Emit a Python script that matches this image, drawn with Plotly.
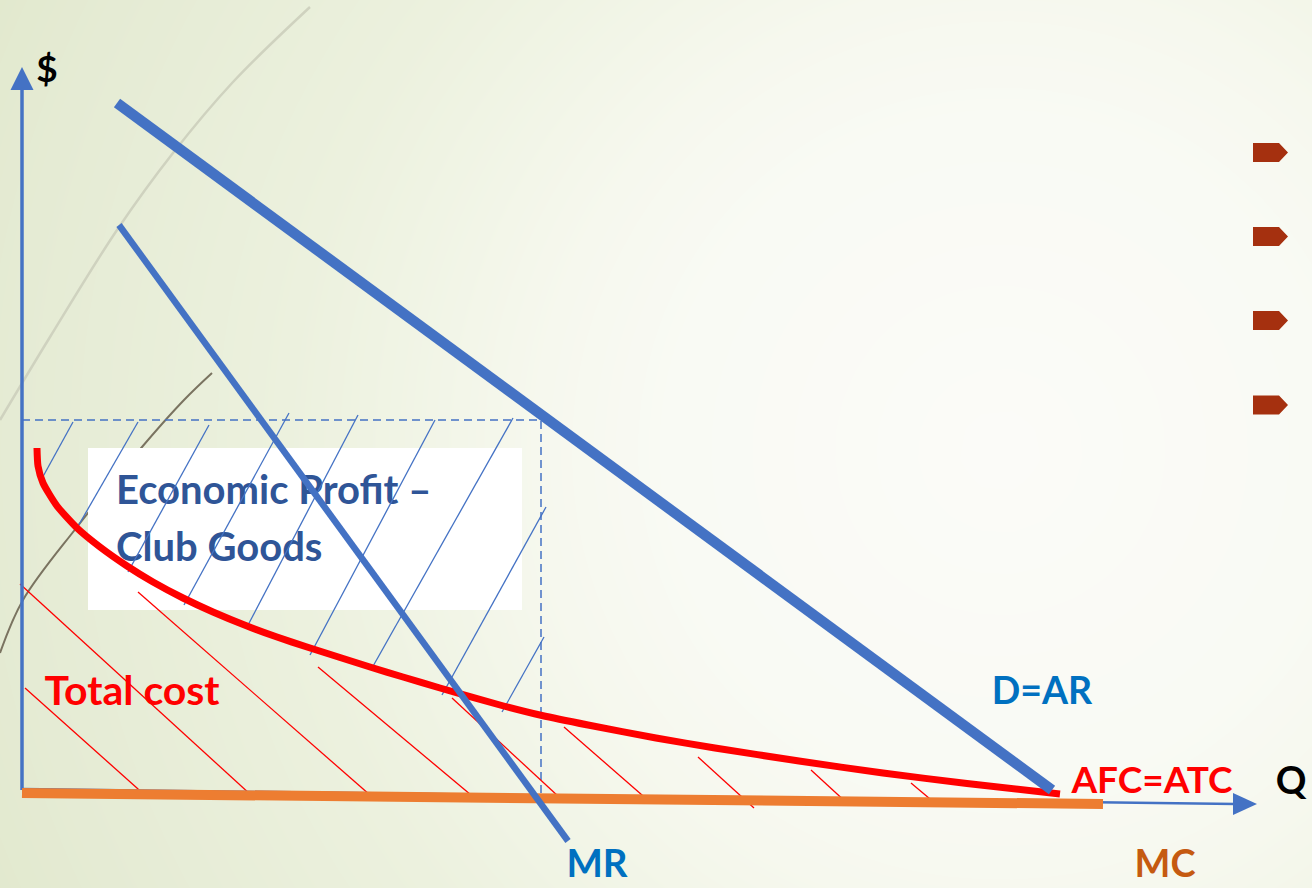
import numpy as np
import plotly.graph_objects as go

W, H = 1312, 888

# ---------------- diagram data (page units: x to the right, y downward) ----------------
yaxis_x = [22, 22]
yaxis_y = [790, 88]
yarrow_tip = (22, 67)
xaxis_x = [22, 1236]
xaxis_y = [789, 804]
xarrow_tip = (1257, 804)

demand_x = [117, 1052]
demand_y = [103, 790]

mr_x = [119, 568]
mr_y = [225, 841]

mc_x = [22, 1103]
mc_y = [793, 804]

atc_x = [37, 38, 43, 57, 77, 100, 127, 153, 183, 213, 247, 277, 307, 340, 370,
         403, 440, 500, 542, 588, 656, 715, 799, 883, 967, 1060]
atc_y = [448, 466, 483, 506, 528, 547, 566, 582, 598, 612, 626, 637, 647, 657.5, 667,
         677, 688, 705, 715.5, 725, 738, 748, 761, 773, 783.5, 794]

profit_top_y = 420
profit_right_x = 541
profit_left_x = 22
profit_bottom_y = 800

# profit hatch (blue): start (on ATC) -> end
blue_hatch_x0 = [40, 77, 128, 184, 247, 310, 372, 442, 502]
blue_hatch_y0 = [482, 528, 572, 605, 627, 655, 668, 695, 712]
blue_hatch_x1 = [73, 138, 209, 289, 358, 435, 513, 546, 544]
blue_hatch_y1 = [422, 422, 425, 413, 415, 420, 418, 507, 637]

# total-cost hatch (red)
red_hatch_x0 = [20, 25, 138, 318, 452, 564, 698, 811, 911]
red_hatch_y0 = [584, 688, 592, 667, 698, 727, 757, 770, 783]
red_hatch_x1 = [251, 147, 370, 477, 559, 650, 754, 848, 936]
red_hatch_y1 = [795, 797, 795, 800, 797, 802, 808, 804, 804]

# decorative arcs
gray_arc_x = [0, 50, 117, 173, 233, 310]
gray_arc_y = [420, 337, 230, 153, 82, 7]
brown_arc_x = [0, 23, 77, 142, 184, 212]
brown_arc_y = [653, 600, 527, 447, 400, 373]

# white label box
box_x0, box_x1 = 88, 522
box_y0, box_y1 = 448, 610

# bullets on the right
bullet_y = [152.5, 236.5, 320.5, 405]
bullet_left, bullet_shoulder, bullet_tip, bullet_half = 1253, 1279, 1288, 9.5

labels = ["Total cost", "D=AR", "AFC=ATC", "Q", "MR", "MC", "$"]
label_x = [132, 1042, 1152, 1291, 597, 1165, 47]
label_y = [695, 695, 784, 784, 867, 867, 73]
label_color = ["#ff0000", "#0070c0", "#ff0000", "#000000", "#0070c0", "#c55a11", "#000000"]
label_size = [41, 37.5, 37, 38, 38.5, 38, 37]

box_lines = ["Economic Profit \u2013", "Club Goods"]
box_line_x = [116, 116]
box_line_y = [494, 551]

BLUE = "#4472c4"

fig = go.Figure()

# ---------------- background radial gradient ----------------
gx = np.linspace(-10, W + 10, 44)
gy = np.linspace(-10, H + 10, 32)
GX, GY = np.meshgrid(gx, gy)
dist = np.sqrt((GX - 1000) ** 2 + (GY - 450) ** 2)
fig.add_trace(go.Heatmap(
    x=gx, y=gy, z=dist, zmin=0, zmax=1100, zsmooth="best", showscale=False,
    hoverinfo="skip",
    colorscale=[[0, "#fbfbf8"], [0.3, "#f9faf4"], [0.42, "#f6f8ee"], [0.65, "#ecf1de"],
                [0.9, "#e5ebd4"], [1, "#e2e9ce"]]))

# arcs
fig.add_trace(go.Scatter(x=gray_arc_x, y=gray_arc_y, mode="lines",
                         line=dict(color="#cfd2bf", width=2.5, shape="spline")))
fig.add_trace(go.Scatter(x=brown_arc_x, y=brown_arc_y, mode="lines",
                         line=dict(color="#7a7360", width=2, shape="spline")))

# white box
fig.add_trace(go.Scatter(x=[box_x0, box_x1, box_x1, box_x0, box_x0],
                         y=[box_y0, box_y0, box_y1, box_y1, box_y0],
                         mode="lines", fill="toself", fillcolor="#ffffff",
                         line=dict(width=0, color="#ffffff")))
fig.add_trace(go.Scatter(x=box_line_x, y=box_line_y, mode="text", text=box_lines,
                         textposition="middle right",
                         textfont=dict(family="Lato", size=40, color="#2f5597", weight="bold")))

# dashed profit rectangle
fig.add_trace(go.Scatter(x=[profit_left_x, profit_right_x, profit_right_x],
                         y=[profit_top_y, profit_top_y, profit_bottom_y], mode="lines",
                         line=dict(color=BLUE, width=1.5, dash="8px,5px")))


def segs(x0, y0, x1, y1):
    xs, ys = [], []
    for a, b, c, d in zip(x0, y0, x1, y1):
        xs += [a, c, None]
        ys += [b, d, None]
    return xs, ys


hx, hy = segs(red_hatch_x0, red_hatch_y0, red_hatch_x1, red_hatch_y1)
fig.add_trace(go.Scatter(x=hx, y=hy, mode="lines", line=dict(color="#ff0000", width=1.3)))
hx, hy = segs(blue_hatch_x0, blue_hatch_y0, blue_hatch_x1, blue_hatch_y1)
fig.add_trace(go.Scatter(x=hx, y=hy, mode="lines", line=dict(color=BLUE, width=1.3)))

# axes
fig.add_trace(go.Scatter(x=yaxis_x, y=yaxis_y, mode="lines", line=dict(color=BLUE, width=3.5)))
tx, ty = yarrow_tip
fig.add_trace(go.Scatter(x=[tx, tx + 11.5, tx - 11.5, tx], y=[ty, ty + 23, ty + 23, ty],
                         mode="lines", fill="toself", fillcolor=BLUE, line=dict(width=0, color=BLUE)))
fig.add_trace(go.Scatter(x=xaxis_x, y=xaxis_y, mode="lines", line=dict(color=BLUE, width=2.5)))
tx, ty = xarrow_tip
fig.add_trace(go.Scatter(x=[tx, tx - 24, tx - 24, tx], y=[ty, ty - 11, ty + 11, ty],
                         mode="lines", fill="toself", fillcolor=BLUE, line=dict(width=0, color=BLUE)))

# MC
fig.add_trace(go.Scatter(x=mc_x, y=mc_y, mode="lines", line=dict(color="#ed7d31", width=10)))
# ATC
fig.add_trace(go.Scatter(x=atc_x, y=atc_y, mode="lines",
                         line=dict(color="#ff0000", width=7, shape="spline", smoothing=0.6)))
# MR and D
fig.add_trace(go.Scatter(x=mr_x, y=mr_y, mode="lines", line=dict(color=BLUE, width=6.5)))
fig.add_trace(go.Scatter(x=demand_x, y=demand_y, mode="lines", line=dict(color=BLUE, width=10.5)))

# bullets
bx, by = [], []
for c in bullet_y:
    bx += [bullet_left, bullet_shoulder, bullet_tip, bullet_shoulder, bullet_left, bullet_left, None]
    by += [c - bullet_half, c - bullet_half, c, c + bullet_half, c + bullet_half, c - bullet_half, None]
fig.add_trace(go.Scatter(x=bx, y=by, mode="lines", fill="toself", fillcolor="#a5300f",
                         line=dict(width=0, color="#a5300f")))

# labels
fig.add_trace(go.Scatter(x=label_x, y=label_y, mode="text", text=labels,
                         textposition="middle center",
                         textfont=dict(family="Lato", size=label_size, color=label_color,
                                       weight="bold")))

fig.update_layout(
    width=W, height=H, autosize=False,
    margin=dict(l=0, r=0, t=0, b=0),
    paper_bgcolor="#f3f6ea", plot_bgcolor="#f3f6ea",
    showlegend=False, hovermode=False,
    xaxis=dict(range=[0, W], visible=False, fixedrange=True),
    yaxis=dict(range=[H, 0], visible=False, fixedrange=True),
)

fig.write_html("out.html", config={"displayModeBar": False})
